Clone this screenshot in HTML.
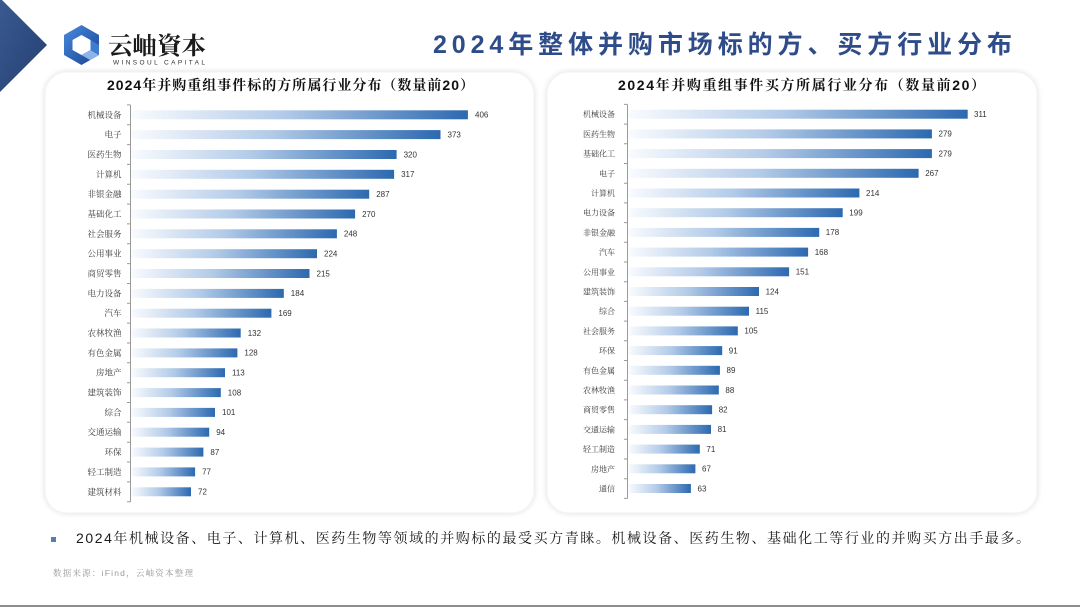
<!DOCTYPE html>
<html><head><meta charset="utf-8"><style>
html,body{margin:0;padding:0;background:#fff;}
svg{display:block;}
.cat{font-family:"Liberation Serif","Noto Serif CJK SC",serif;font-size:8.5px;fill:#3a3a3a;text-anchor:end;}
.val{font-family:"Liberation Sans",sans-serif;font-size:8px;fill:#333;}
.ttl{font-family:"Liberation Sans","Noto Serif CJK SC",serif;font-size:14px;font-weight:700;fill:#111;}
.foot{font-family:"Liberation Sans","Noto Serif CJK SC",serif;font-size:14px;fill:#1a1a1a;}
.src{font-family:"Liberation Sans","Noto Serif CJK SC",serif;font-size:8.5px;fill:#9a9a9a;}
.main{font-family:"Liberation Sans","Noto Sans CJK SC",sans-serif;font-size:25px;font-weight:700;fill:#2f4c8a;}
.logo{font-family:"Liberation Serif","Noto Serif CJK SC",serif;font-size:24px;font-weight:700;fill:#1a1a1a;}
.en{font-family:"Liberation Sans",sans-serif;font-size:6.5px;fill:#333;}
</style></head><body>
<svg width="1080" height="607" viewBox="0 0 1080 607" xmlns="http://www.w3.org/2000/svg">
<defs>
<linearGradient id="bg" x1="0" y1="0" x2="1" y2="0">
<stop offset="0" stop-color="#f9fbfe"/>
<stop offset="0.45" stop-color="#b3cbe8"/>
<stop offset="1" stop-color="#2c69b0"/>
</linearGradient>
<linearGradient id="tri" x1="0" y1="0" x2="1" y2="1">
<stop offset="0" stop-color="#3a5a92"/>
<stop offset="1" stop-color="#243f70"/>
</linearGradient>
<linearGradient id="logo" x1="0" y1="0" x2="1" y2="1">
<stop offset="0" stop-color="#4a8be0"/>
<stop offset="0.6" stop-color="#2a5fb0"/>
<stop offset="1" stop-color="#1d4388"/>
</linearGradient>
<filter id="sh" x="-5%" y="-5%" width="110%" height="110%">
<feGaussianBlur in="SourceAlpha" stdDeviation="3"/>
<feComponentTransfer><feFuncA type="linear" slope="0.13"/></feComponentTransfer>
<feMerge><feMergeNode/><feMergeNode in="SourceGraphic"/></feMerge>
</filter>
</defs>

<polygon points="0,-2 47,45 0,92" fill="url(#tri)"/>

<polygon points="81.5,25 99,35 99,55 81.5,65 64,55 64,35" fill="url(#logo)"/>
<polygon points="81.5,35 90.5,40 90.5,50 81.5,55 72.5,50 72.5,40" fill="#fff"/>
<polygon points="81.5,55 90.5,50 99,55 90,60" fill="#8cb4ea"/>
<polygon points="90.5,50 99,55 99,45 90.5,40" fill="#3f7cd0"/>
<text class="logo" x="108" y="54" textLength="98" lengthAdjust="spacingAndGlyphs">云岫資本</text>
<text class="en" x="113" y="64.5" textLength="92" lengthAdjust="spacing">WINSOUL CAPITAL</text>

<text class="main" x="433" y="53" textLength="579" lengthAdjust="spacing">2024年整体并购市场标的方、买方行业分布</text>

<rect x="45" y="72" width="489" height="441" rx="22" ry="22" fill="#fff" stroke="#f2f2f2" stroke-width="1" filter="url(#sh)"/>
<rect x="547" y="72" width="490" height="441" rx="22" ry="22" fill="#fff" stroke="#f2f2f2" stroke-width="1" filter="url(#sh)"/>

<text class="ttl" x="107" y="90" textLength="367" lengthAdjust="spacing">2024年并购重组事件标的方所属行业分布（数量前20）</text>
<text class="ttl" x="618" y="90" textLength="367" lengthAdjust="spacing">2024年并购重组事件买方所属行业分布（数量前20）</text>

<g fill="url(#bg)">
<rect x="131" y="110.3" width="336.9" height="9"/>
<rect x="131" y="130.1" width="309.5" height="9"/>
<rect x="131" y="150.0" width="265.6" height="9"/>
<rect x="131" y="169.8" width="263.1" height="9"/>
<rect x="131" y="189.7" width="238.2" height="9"/>
<rect x="131" y="209.5" width="224.1" height="9"/>
<rect x="131" y="229.3" width="205.9" height="9"/>
<rect x="131" y="249.2" width="186.0" height="9"/>
<rect x="131" y="269.0" width="178.5" height="9"/>
<rect x="131" y="288.9" width="152.8" height="9"/>
<rect x="131" y="308.7" width="140.4" height="9"/>
<rect x="131" y="328.5" width="109.7" height="9"/>
<rect x="131" y="348.4" width="106.4" height="9"/>
<rect x="131" y="368.2" width="94.0" height="9"/>
<rect x="131" y="388.1" width="89.8" height="9"/>
<rect x="131" y="407.9" width="84.0" height="9"/>
<rect x="131" y="427.7" width="78.2" height="9"/>
<rect x="131" y="447.6" width="72.4" height="9"/>
<rect x="131" y="467.4" width="64.1" height="9"/>
<rect x="131" y="487.3" width="60.0" height="9"/>
</g>
<path d="M130.5 104.9V501.7 M127 104.9H130.5 M127 124.7H130.5 M127 144.6H130.5 M127 164.4H130.5 M127 184.3H130.5 M127 204.1H130.5 M127 223.9H130.5 M127 243.8H130.5 M127 263.6H130.5 M127 283.5H130.5 M127 303.3H130.5 M127 323.1H130.5 M127 343.0H130.5 M127 362.8H130.5 M127 382.7H130.5 M127 402.5H130.5 M127 422.3H130.5 M127 442.2H130.5 M127 462.0H130.5 M127 481.9H130.5 M127 501.7H130.5" stroke="#9a9a9a" stroke-width="1" fill="none"/>
<g>
<text class="cat" x="121.5" y="117.8">机械设备</text>
<text class="cat" x="121.5" y="137.6">电子</text>
<text class="cat" x="121.5" y="157.5">医药生物</text>
<text class="cat" x="121.5" y="177.3">计算机</text>
<text class="cat" x="121.5" y="197.2">非银金融</text>
<text class="cat" x="121.5" y="217.0">基础化工</text>
<text class="cat" x="121.5" y="236.8">社会服务</text>
<text class="cat" x="121.5" y="256.7">公用事业</text>
<text class="cat" x="121.5" y="276.5">商贸零售</text>
<text class="cat" x="121.5" y="296.4">电力设备</text>
<text class="cat" x="121.5" y="316.2">汽车</text>
<text class="cat" x="121.5" y="336.0">农林牧渔</text>
<text class="cat" x="121.5" y="355.9">有色金属</text>
<text class="cat" x="121.5" y="375.7">房地产</text>
<text class="cat" x="121.5" y="395.6">建筑装饰</text>
<text class="cat" x="121.5" y="415.4">综合</text>
<text class="cat" x="121.5" y="435.2">交通运输</text>
<text class="cat" x="121.5" y="455.1">环保</text>
<text class="cat" x="121.5" y="474.9">轻工制造</text>
<text class="cat" x="121.5" y="494.8">建筑材料</text>
</g>
<g>
<text class="val" x="475" y="117.6">406</text>
<text class="val" x="447.5" y="137.4">373</text>
<text class="val" x="403.6" y="157.3">320</text>
<text class="val" x="401.1" y="177.1">317</text>
<text class="val" x="376.2" y="197.0">287</text>
<text class="val" x="362.1" y="216.8">270</text>
<text class="val" x="343.9" y="236.6">248</text>
<text class="val" x="324.0" y="256.5">224</text>
<text class="val" x="316.5" y="276.3">215</text>
<text class="val" x="290.8" y="296.2">184</text>
<text class="val" x="278.4" y="316.0">169</text>
<text class="val" x="247.7" y="335.8">132</text>
<text class="val" x="244.4" y="355.7">128</text>
<text class="val" x="232.0" y="375.5">113</text>
<text class="val" x="227.8" y="395.4">108</text>
<text class="val" x="222.0" y="415.2">101</text>
<text class="val" x="216.2" y="435.0">94</text>
<text class="val" x="210.4" y="454.9">87</text>
<text class="val" x="202.1" y="474.7">77</text>
<text class="val" x="198.0" y="494.6">72</text>
</g>

<g fill="url(#bg)">
<rect x="628.5" y="109.7" width="339.2" height="9"/>
<rect x="628.5" y="129.4" width="303.4" height="9"/>
<rect x="628.5" y="149.1" width="303.4" height="9"/>
<rect x="628.5" y="168.8" width="290.1" height="9"/>
<rect x="628.5" y="188.5" width="230.9" height="9"/>
<rect x="628.5" y="208.2" width="214.2" height="9"/>
<rect x="628.5" y="227.9" width="190.7" height="9"/>
<rect x="628.5" y="247.6" width="179.6" height="9"/>
<rect x="628.5" y="267.3" width="160.6" height="9"/>
<rect x="628.5" y="287.0" width="130.5" height="9"/>
<rect x="628.5" y="306.7" width="120.5" height="9"/>
<rect x="628.5" y="326.4" width="109.3" height="9"/>
<rect x="628.5" y="346.1" width="93.7" height="9"/>
<rect x="628.5" y="365.8" width="91.4" height="9"/>
<rect x="628.5" y="385.5" width="90.3" height="9"/>
<rect x="628.5" y="405.2" width="83.6" height="9"/>
<rect x="628.5" y="424.9" width="82.5" height="9"/>
<rect x="628.5" y="444.6" width="71.3" height="9"/>
<rect x="628.5" y="464.3" width="66.9" height="9"/>
<rect x="628.5" y="484.0" width="62.4" height="9"/>
</g>
<path d="M627.5 104.4V498.4 M624 104.4H627.5 M624 124.1H627.5 M624 143.8H627.5 M624 163.5H627.5 M624 183.2H627.5 M624 202.9H627.5 M624 222.6H627.5 M624 242.3H627.5 M624 262.0H627.5 M624 281.7H627.5 M624 301.4H627.5 M624 321.1H627.5 M624 340.8H627.5 M624 360.5H627.5 M624 380.2H627.5 M624 399.9H627.5 M624 419.6H627.5 M624 439.3H627.5 M624 459.0H627.5 M624 478.7H627.5 M624 498.4H627.5" stroke="#9a9a9a" stroke-width="1" fill="none"/>
<g>
<text class="cat" x="615" y="117.2" style="font-size:8px">机械设备</text>
<text class="cat" x="615" y="136.9" style="font-size:8px">医药生物</text>
<text class="cat" x="615" y="156.6" style="font-size:8px">基础化工</text>
<text class="cat" x="615" y="176.3" style="font-size:8px">电子</text>
<text class="cat" x="615" y="196.0" style="font-size:8px">计算机</text>
<text class="cat" x="615" y="215.7" style="font-size:8px">电力设备</text>
<text class="cat" x="615" y="235.4" style="font-size:8px">非银金融</text>
<text class="cat" x="615" y="255.1" style="font-size:8px">汽车</text>
<text class="cat" x="615" y="274.8" style="font-size:8px">公用事业</text>
<text class="cat" x="615" y="294.5" style="font-size:8px">建筑装饰</text>
<text class="cat" x="615" y="314.2" style="font-size:8px">综合</text>
<text class="cat" x="615" y="333.9" style="font-size:8px">社会服务</text>
<text class="cat" x="615" y="353.6" style="font-size:8px">环保</text>
<text class="cat" x="615" y="373.3" style="font-size:8px">有色金属</text>
<text class="cat" x="615" y="393.0" style="font-size:8px">农林牧渔</text>
<text class="cat" x="615" y="412.7" style="font-size:8px">商贸零售</text>
<text class="cat" x="615" y="432.4" style="font-size:8px">交通运输</text>
<text class="cat" x="615" y="452.1" style="font-size:8px">轻工制造</text>
<text class="cat" x="615" y="471.8" style="font-size:8px">房地产</text>
<text class="cat" x="615" y="491.5" style="font-size:8px">通信</text>
</g>
<g>
<text class="val" x="974" y="117.0">311</text>
<text class="val" x="938.5" y="136.7">279</text>
<text class="val" x="938.5" y="156.4">279</text>
<text class="val" x="925.2" y="176.1">267</text>
<text class="val" x="866.0" y="195.8">214</text>
<text class="val" x="849.3" y="215.5">199</text>
<text class="val" x="825.8" y="235.2">178</text>
<text class="val" x="814.7" y="254.9">168</text>
<text class="val" x="795.7" y="274.6">151</text>
<text class="val" x="765.6" y="294.3">124</text>
<text class="val" x="755.6" y="314.0">115</text>
<text class="val" x="744.4" y="333.7">105</text>
<text class="val" x="728.8" y="353.4">91</text>
<text class="val" x="726.5" y="373.1">89</text>
<text class="val" x="725.4" y="392.8">88</text>
<text class="val" x="718.7" y="412.5">82</text>
<text class="val" x="717.6" y="432.2">81</text>
<text class="val" x="706.4" y="451.9">71</text>
<text class="val" x="702.0" y="471.6">67</text>
<text class="val" x="697.5" y="491.3">63</text>
</g>

<rect x="51" y="537" width="5" height="5" fill="#5a7cb5"/>
<text class="foot" x="76" y="543" textLength="954" lengthAdjust="spacing">2024年机械设备、电子、计算机、医药生物等领域的并购标的最受买方青睐。机械设备、医药生物、基础化工等行业的并购买方出手最多。</text>
<text class="src" x="53" y="576" textLength="140" lengthAdjust="spacing">数据来源：iFind，云岫资本整理</text>

<rect x="0" y="605" width="1080" height="2" fill="#8c8c8c"/>
</svg>
</body></html>
